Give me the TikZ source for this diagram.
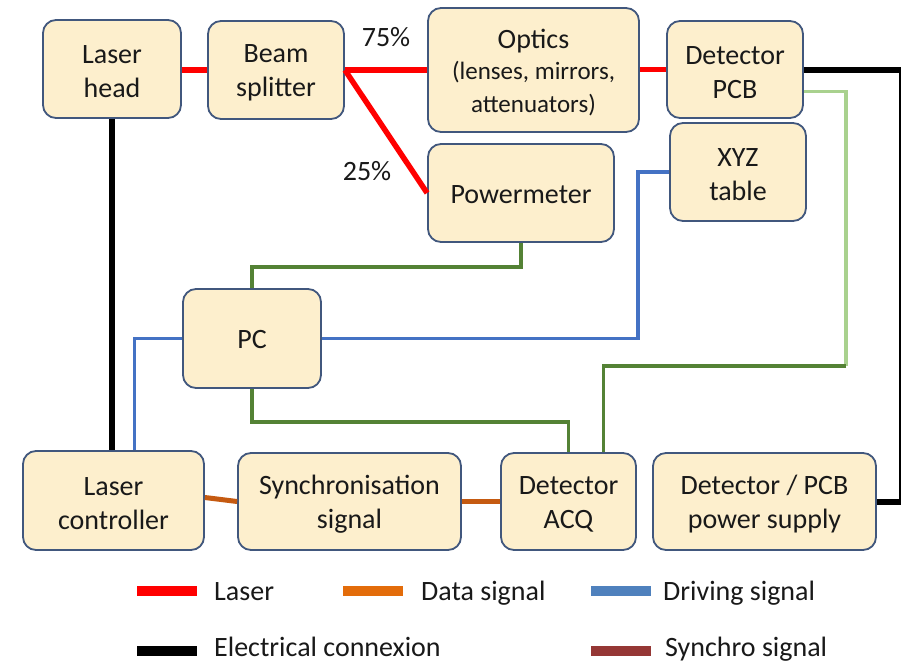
\documentclass[tikz,border=0pt]{standalone}
\usepackage{fontspec}
\setmainfont{Carlito}
\definecolor{boxfill}{HTML}{FDEFCD}
\definecolor{boxdraw}{HTML}{41577D}
\definecolor{laserred}{HTML}{FF0000}
\definecolor{drvblue}{HTML}{4472C4}
\definecolor{dkgreen}{HTML}{548235}
\definecolor{ltgreen}{HTML}{A9D18E}
\definecolor{dataor}{HTML}{C55A11}
\definecolor{legor}{HTML}{E36C0A}
\definecolor{legblue}{HTML}{4F81BD}
\definecolor{syncbrown}{HTML}{953735}
\newcommand\bxfont{\fontsize{28}{34}\selectfont}
\newcommand\smfont{\fontsize{25}{30}\selectfont}
\begin{document}
\begin{tikzpicture}[x=1pt,y=-1pt,
  blk/.style={draw=boxdraw, line width=1.8pt, fill=boxfill, rounded corners=13pt,
    align=center, inner sep=0pt, font=\bxfont, text=black!90},
  redl/.style={draw=laserred, line width=5.5pt},
  blkl/.style={draw=black, line width=6pt},
  bluel/.style={draw=drvblue, line width=3.5pt},
  bluethin/.style={draw=drvblue, line width=2.5pt},
  dgl/.style={draw=dkgreen, line width=3.5pt},
  lgl/.style={draw=ltgreen, line width=3.5pt},
  orl/.style={draw=dataor, line width=5pt},
  lbl/.style={font=\bxfont, inner sep=0pt, text=black!90},
  legbar/.style={minimum width=60pt, minimum height=10pt, inner sep=0pt}
]
\useasboundingbox (0,0) rectangle (901,664);
\fill[white] (0,0) rectangle (901,664);

% boxes
\node[blk, minimum width=138pt, minimum height=98pt] (lh) at (112,69) {\rule{0pt}{24pt}Laser\\head};
\node[blk, minimum width=136pt, minimum height=98pt] (bs) at (276,70) {\rule{0pt}{24pt}Beam\\splitter};
\node[blk, minimum width=211pt, minimum height=124pt] (op) at (533.5,70) {};
\node[lbl, align=center] (optxt) at (533.5,73)
  {Optics\\[-3pt]{\smfont (lenses, mirrors,}\\[-1pt]{\smfont attenuators)}};
\node[blk, minimum width=136pt, minimum height=97pt] (pcb) at (735,69.5) {\rule{0pt}{24pt}Detector\\PCB};
\node[blk, minimum width=136pt, minimum height=98pt] (xyz) at (738,172) {\rule{0pt}{24pt}XYZ\\table};
\node[blk, minimum width=186pt, minimum height=98pt] (pm) at (521,193) {\rule{0pt}{21pt}Powermeter};
\node[blk, minimum width=138pt, minimum height=99pt] (pc) at (252,338.5) {\rule{0pt}{21pt}PC};
\node[blk, minimum width=181pt, minimum height=99pt] (lc) at (113.5,500.5) {\rule{0pt}{24pt}Laser\\controller};
\node[blk, minimum width=223pt, minimum height=97pt] (sync) at (349.5,501.5) {\rule{0pt}{24pt}Synchronisation\\signal};
\node[blk, minimum width=135pt, minimum height=97pt] (acq) at (568.5,501.5) {\rule{0pt}{24pt}Detector\\ACQ};
\node[blk, minimum width=223pt, minimum height=97pt] (ps) at (764.5,501.5) {\rule{0pt}{24pt}Detector / PCB\\power supply};

% percentages
\node[lbl, anchor=base] (p75) at (386,46) {75\%};
\node[lbl, anchor=base] (p25) at (367,180) {25\%};

% laser paths
\draw[redl] (lh.east |- bs.west) -- (bs.west);
\draw[redl] (bs.east) -- (bs.east -| op.west);
\draw[redl] (bs.east) -- (pm.west);
\draw[redl] (op.east |- pcb.west) -- (pcb.west);

% electrical
\coordinate (rc) at (902,69.5);
\draw[blkl] (pcb.east) -- (pcb.east -| rc) |- (ps.east);
\draw[blkl] (lh.south) -- (lh.south |- lc.north);

% driving
\draw[bluel] (pc.east) -| ([xshift=-31pt]xyz.west) -- (xyz.west);
\draw[bluethin] (pc.west) -| ([xshift=21pt]lc.north);

% green signals
\draw[dgl] (pm.south) -- ++(0,24) -| (pc.north);
\draw[dgl] (pc.south) -- ++(0,33) -| (acq.north);
\coordinate (g1) at (846,366);
\draw[lgl] ([yshift=-22pt]pcb.east) -| (g1);
\draw[dgl] (g1) -| ([xshift=35pt]acq.north);

% data
\draw[orl] ([yshift=3pt]lc.east) -- (sync.west);
\draw[orl] (sync.east) -- (acq.west);

% legend
\node[legbar, fill=laserred] (k1) at (167,591) {};
\node[lbl, anchor=base west] (t1) at (214,600) {Laser};
\node[legbar, fill=legor] (k2) at (373,591) {};
\node[lbl, anchor=base west] (t2) at (421,600) {Data signal};
\node[legbar, fill=legblue] (k3) at (621,591) {};
\node[lbl, anchor=base west] (t3) at (663,600) {Driving signal};
\node[legbar, fill=black] (k4) at (167,651) {};
\node[lbl, anchor=base west] (t4) at (214,656) {Electrical connexion};
\node[legbar, fill=syncbrown] (k5) at (621,651) {};
\node[lbl, anchor=base west] (t5) at (665,656) {Synchro signal};
\end{tikzpicture}
\end{document}
